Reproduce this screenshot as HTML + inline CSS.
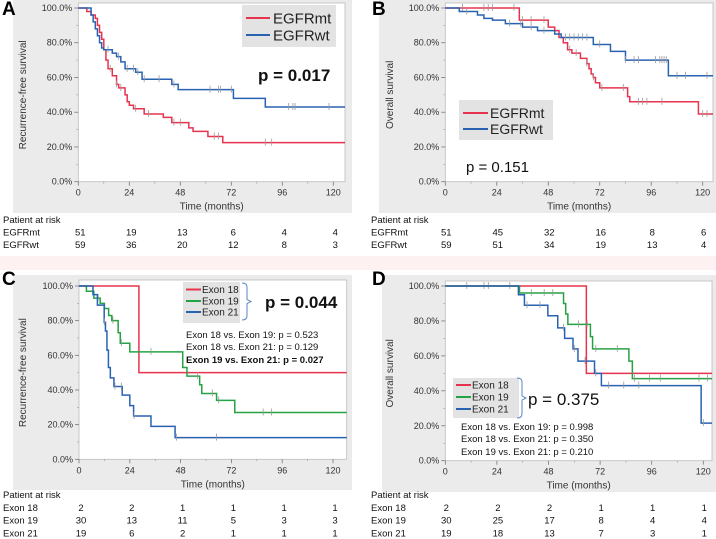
<!DOCTYPE html>
<html><head><meta charset="utf-8"><style>
body{margin:0;background:#fff;}
svg{display:block;font-family:"Liberation Sans",Arial,sans-serif;}
</style></head><body>
<svg id="fig" width="716" height="539" viewBox="0 0 716 539" xmlns="http://www.w3.org/2000/svg"></svg>
<script>
// ---- Panel A (RFS, EGFR) ----
const aMtTimes=[4,6,8,9,10,11,12,13,14,16,18,19,22,23,24,26,31,40,44,52,54,61,68];
const aMtSurv=[98,96,94,90,86,82,76,70,65,61,56,54,50,46,44,42,39,37,34,31,29,26,22.5];
const aMtCens=[15,18,20,27,33,45,48,64,66,88,91];
const aWtTimes=[6,7,8,9,10,11,12,16,18,20,22,27,30,44,47,73,88];
const aWtSurv=[96,92,88,84,80,77,76,74,72,69,65,63,59,56,53,48,43];
const aWtCens=[14,19,23,26,28,31,38,45,62,66,67,72,99,101,102,118];
// ---- Panel B (OS, EGFR) ----
const bMtTimes=[34.5,48,51,53,55,57,59,63,66,67,68,69,70,72,85,86,118];
const bMtSurv=[93,89,87,83,80,76,74,71,68,65,62,60,57,54,49,46,39];
const bMtCens=[8,18,20,22,32,36,40,46,58,61,66,69,73,83,90,92,94,101,120,122];
const bWtTimes=[6.5,15,18,22,28,36,43,51,54,69,77,84,104];
const bWtSurv=[98,96,94,93,91,89,87,85,83,79,75,70,61];
const bWtCens=[10,30,35,40,46,56,58,60,62,64,66,72,84,88,90,98,100,101,102,103,108,112,122];
// ---- Panel C (RFS, exon) ----
const c18Times=[28.3];
const c18Surv=[50];
const c19Times=[3.5,7,10,12,14,15.5,18.5,19.5,24,49,51,57,58,65,73.6];
const c19Surv=[97,93,90,87,83,80,73,67,62,53,48,43,38,34,27];
const c19Cens=[9,16,20,34,56,63,66,87,91];
const c21Times=[6.6,8.7,11.9,12.5,13.2,13.9,14.8,16.5,20.4,24,25.8,34,45.4];
const c21Surv=[95,89,79,74,63,53,47,42,37,31,25,19,12.5];
const c21Cens=[12,17,20,26,46,65];
// ---- Panel D (OS, exon) ----
const d18Times=[65.6];
const d18Surv=[50];
const d19Times=[34.5,55,56,57,67.5,68.5,85.4,87];
const d19Surv=[96,90,84,78,71,64,57,47];
const d19Cens=[10,18,20,30,40,46,50,62,66,70,80,88,95,100,118,122];
const d21Times=[34,36.8,47.7,52.3,55.5,59.4,61.7,69.4,72.6,119];
const d21Surv=[95,89,83,76,70,64,57,50,43,21.5];
const d21Cens=[38,44,55,60,65,70,76,83,90,120];
// ---- tick labels / risk tables ----
const xTicks=[0,24,48,72,96,120];
const yTicks=[0,20,40,60,80,100];
const riskA={rows:["EGFRmt","EGFRwt"],vals:[[51,19,13,6,4,4],[59,36,20,12,8,3]]};
const riskB={rows:["EGFRmt","EGFRwt"],vals:[[51,45,32,16,8,6],[59,51,34,19,13,4]]};
const riskC={rows:["Exon 18","Exon 19","Exon 21"],vals:[[2,2,1,1,1,1],[30,13,11,5,3,3],[19,6,2,1,1,1]]};
const riskD={rows:["Exon 18","Exon 19","Exon 21"],vals:[[2,2,2,1,1,1],[30,25,17,8,4,4],[19,18,13,7,3,1]]};

const NS="http://www.w3.org/2000/svg";
const svg=document.getElementById('fig');
function mk(tag,attrs,parent,txt){const e=document.createElementNS(NS,tag);for(const k in attrs)e.setAttribute(k,attrs[k]);if(txt!==undefined)e.textContent=txt;(parent||svg).appendChild(e);return e;}
const RED="#e8334f",BLUE="#2a62b2",GREEN="#25a243";

mk('rect',{x:0,y:256,width:716,height:14,fill:'#fdf1f1'});

function panel(p){
  const g=mk('g',{});
  
  
  const bg=mk('rect',{x:p.bg[0],y:p.bg[1],width:p.bg[2],height:p.bg[3],fill:'#ebebeb'},g);
  
  
  const xs=t=>p.x0+(p.x120-p.x0)*t/120;
  const ys=v=>p.y0+(p.y100-p.y0)*v/100;
  const box=mk('rect',{x:p.x0,y:p.top,width:p.right-p.x0,height:p.y0-p.top,fill:'#fff',stroke:'#bbb','stroke-width':0.8},g);
  
  
  yTicks.forEach(v=>{
    mk('line',{x1:p.x0-4,x2:p.x0,y1:ys(v),y2:ys(v),stroke:'#777','stroke-width':0.8},g);
    const t=mk('text',{x:p.x0-6,y:ys(v)+3,'font-size':9,'text-anchor':'end',fill:'#333'},g,v.toFixed(1)+'%');
    
    
  });
  for(let v=10;v<100;v+=20)mk('line',{x1:p.x0-2,x2:p.x0,y1:ys(v),y2:ys(v),stroke:'#999','stroke-width':0.6},g);
  xTicks.forEach(t=>{
    mk('line',{x1:xs(t),x2:xs(t),y1:p.y0,y2:p.y0+4,stroke:'#777','stroke-width':0.8},g);
    const l=mk('text',{x:xs(t),y:p.y0+14,'font-size':9,'text-anchor':'middle',fill:'#333'},g,String(t));
    
    
  });
  for(let t=12;t<125;t+=24)mk('line',{x1:xs(t),x2:xs(t),y1:p.y0,y2:p.y0+2,stroke:'#999','stroke-width':0.6},g);
  const xt=mk('text',{x:(p.x0+p.right)/2,y:p.y0+28,'font-size':10,'text-anchor':'middle',fill:'#333'},g,'Time (months)');
  
  
  const yt=mk('text',{x:0,y:0,'font-size':10,'text-anchor':'middle',fill:'#333',transform:`translate(${p.ytx},${(p.y0+p.y100)/2}) rotate(-90)`},g,p.ytitle);
  
  
  p.curves.forEach(c=>{
    let d=`M${xs(0)},${ys(100)}`;
    c.t.forEach((t,i)=>{d+=` H${xs(t)} V${ys(c.s[i])}`;});
    d+=` H${p.right}`;
    const path=mk('path',{d:d,fill:'none',stroke:c.color,'stroke-width':1.5},g);
    
    
    (c.cens||[]).forEach(ct=>{
      let v=100;c.t.forEach((t,i)=>{if(t<=ct)v=c.s[i];});
      const m=mk('line',{x1:xs(ct),x2:xs(ct),y1:ys(v)-4,y2:ys(v)+3,stroke:'#999','stroke-width':0.8},g);
      
      
    });
  });
  const L=mk('text',{x:p.letter[0],y:p.letter[1],'font-size':19,'font-weight':'bold',fill:'#000'},g,p.label);
  
  
  const r=p.risk;
  const h=mk('text',{x:p.rx,y:p.ry,'font-size':9.5,fill:'#111'},g,'Patient at risk');
  
  
  r.rows.forEach((row,i)=>{
    const yy=p.ry+p.rstep*(i+1);
    const rl=mk('text',{x:p.rx,y:yy,'font-size':9.5,fill:'#111'},g,row);
    
    
    r.vals[i].forEach((v,j)=>{
      const n=mk('text',{x:xs(xTicks[j])+p.rdx,y:yy,'font-size':9.5,'text-anchor':'middle',fill:'#111'},g,String(v));
      
      
    });
  });
  return g;
}
function legend(g,box,items,fs,lineLen,textX){
  const b=mk('rect',{x:box[0],y:box[1],width:box[2],height:box[3],fill:'#e3e3e3'},g);
  
  
  items.forEach(it=>{
    const l=mk('line',{x1:it.x,x2:it.x+lineLen,y1:it.y,y2:it.y,stroke:it.color,'stroke-width':2},g);
    
    
    const t=mk('text',{x:textX,y:it.y+fs*0.36,'font-size':fs,fill:'#222'},g,it.label);
    
    
  });
}
function txt(g,x,y,s,fs,bold,name){const t=mk('text',{x:x,y:y,'font-size':fs,'font-weight':bold?'bold':'normal',fill:'#111'},g,s);return t;}
function bracket(g,x,y1,y2){const p=mk('path',{d:`M${x},${y1} Q${x+5},${y1} ${x+5},${y1+4} V${(y1+y2)/2-2} L${x+9},${(y1+y2)/2} L${x+5},${(y1+y2)/2+2} V${y2-4} Q${x+5},${y2} ${x},${y2}`,fill:'none',stroke:'#5b86c4','stroke-width':1},g);}

const gA=panel({name:'panel-a',label:'A',letter:[2,15],bg:[13,0,339,213],x0:78.3,x120:333.3,right:345,y0:181.7,y100:8,top:3,ytx:26,ytitle:'Recurrence-free survival',
  curves:[{name:'egfrmt-curve',t:aMtTimes,s:aMtSurv,cens:aMtCens,color:RED},{name:'egfrwt-curve',t:aWtTimes,s:aWtSurv,cens:aWtCens,color:BLUE}],
  risk:riskA,rx:3,ry:223,rstep:12.5,rdx:2});
legend(gA,[242,5,94,42],[{x:246,y:18,color:RED,label:'EGFRmt'},{x:246,y:35,color:BLUE,label:'EGFRwt'}],15,24,273);
txt(gA,258,81,'p = 0.017',17,true,'p-value');

const gB=panel({name:'panel-b',label:'B',letter:[372,15],bg:[379,0,337,213],x0:445.3,x120:702.7,right:713,y0:181.7,y100:8,top:3,ytx:393,ytitle:'Overall survival',
  curves:[{name:'egfrmt-curve',t:bMtTimes,s:bMtSurv,cens:bMtCens,color:RED},{name:'egfrwt-curve',t:bWtTimes,s:bWtSurv,cens:bWtCens,color:BLUE}],
  risk:riskB,rx:371,ry:223,rstep:12.5,rdx:1});
legend(gB,[459,100,94,40],[{x:463,y:113,color:RED,label:'EGFRmt'},{x:463,y:129,color:BLUE,label:'EGFRwt'}],14,25,490);
txt(gB,466,172,'p = 0.151',15,false,'p-value');

const gC=panel({name:'panel-c',label:'C',letter:[2,285],bg:[13,275,339,215],x0:79,x120:333,right:346.7,y0:459.3,y100:286,top:280,ytx:26,ytitle:'Recurrence-free survival',
  curves:[{name:'exon18-curve',t:c18Times,s:c18Surv,color:RED},{name:'exon19-curve',t:c19Times,s:c19Surv,cens:c19Cens,color:GREEN},{name:'exon21-curve',t:c21Times,s:c21Surv,cens:c21Cens,color:BLUE}],
  risk:riskC,rx:3,ry:498,rstep:12.8,rdx:2});
legend(gC,[183,282,57,41],[{x:186,y:289.5,color:RED,label:'Exon 18'},{x:186,y:301,color:GREEN,label:'Exon 19'},{x:186,y:312,color:BLUE,label:'Exon 21'}],10,15,202);
bracket(gC,242,283,320);
txt(gC,265,308,'p = 0.044',17,true,'p-value');
txt(gC,186,338,'Exon 18 vs. Exon 19: p = 0.523',9.5,false,'comparison-text');
txt(gC,186,350,'Exon 18 vs. Exon 21: p = 0.129',9.5,false,'comparison-text');
txt(gC,186,363,'Exon 19 vs. Exon 21: p = 0.027',9.5,true,'comparison-text');

const gD=panel({name:'panel-d',label:'D',letter:[372,285],bg:[382,275,334,217],x0:445.3,x120:703.3,right:712,y0:460.7,y100:286,top:281,ytx:393,ytitle:'Overall survival',
  curves:[{name:'exon18-curve',t:d18Times,s:d18Surv,color:RED},{name:'exon19-curve',t:d19Times,s:d19Surv,cens:d19Cens,color:GREEN},{name:'exon21-curve',t:d21Times,s:d21Surv,cens:d21Cens,color:BLUE}],
  risk:riskD,rx:371,ry:498,rstep:12.8,rdx:1});
legend(gD,[453,378,66,40],[{x:456,y:385,color:RED,label:'Exon 18'},{x:456,y:397,color:GREEN,label:'Exon 19'},{x:456,y:409,color:BLUE,label:'Exon 21'}],10,15,472);
bracket(gD,517,378,418);
txt(gD,528,405,'p = 0.375',17,false,'p-value');
txt(gD,461,430,'Exon 18 vs. Exon 19: p = 0.998',9.5,false,'comparison-text');
txt(gD,461,442,'Exon 18 vs. Exon 21: p = 0.350',9.5,false,'comparison-text');
txt(gD,461,455,'Exon 19 vs. Exon 21: p = 0.210',9.5,false,'comparison-text');
</script>
</body></html>
